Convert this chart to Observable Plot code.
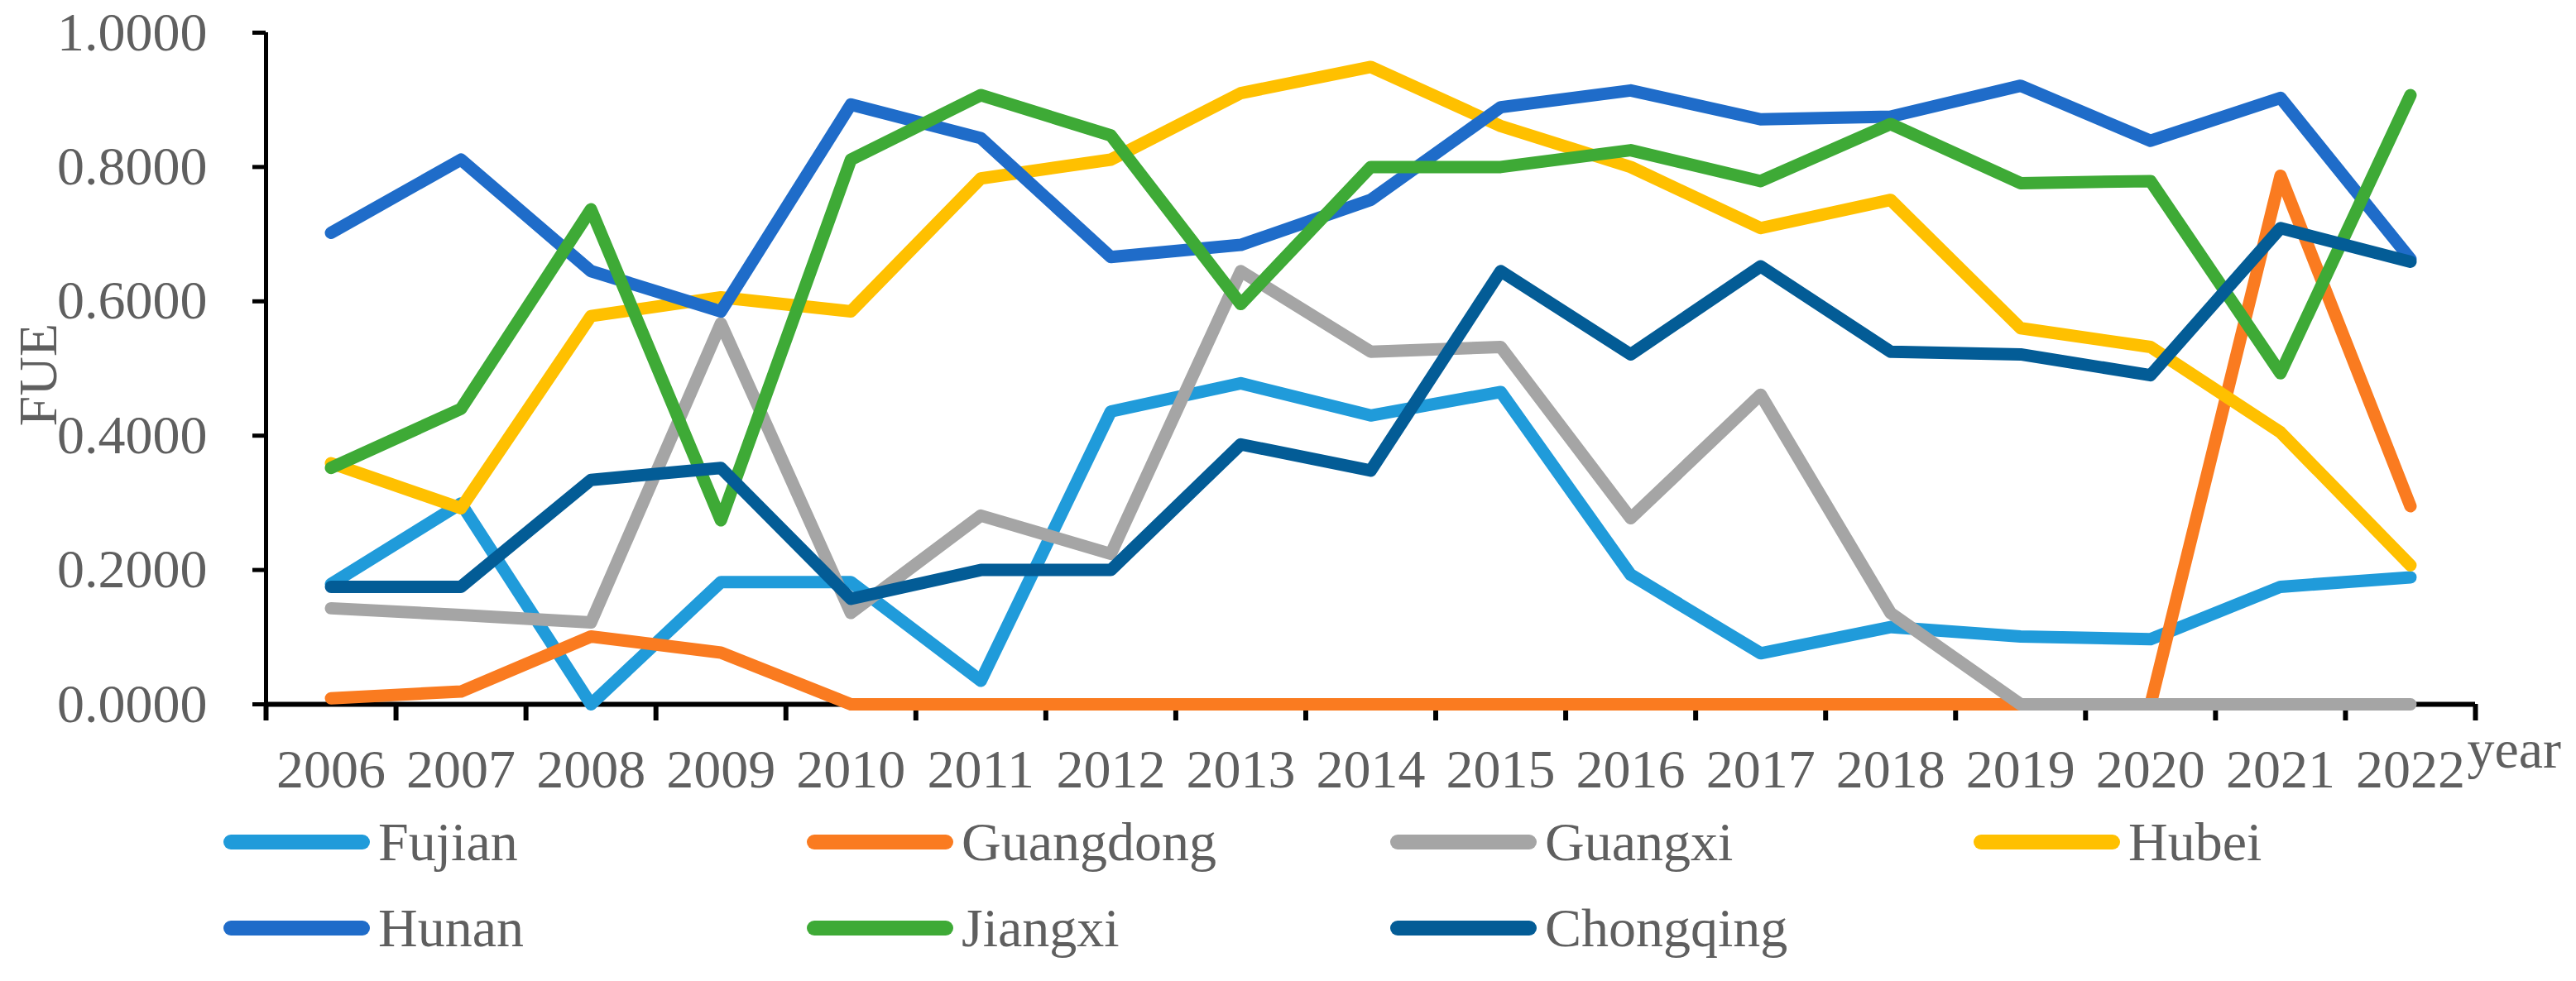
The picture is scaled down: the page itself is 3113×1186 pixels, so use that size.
<!DOCTYPE html>
<html><head><meta charset="utf-8">
<script src="https://cdn.jsdelivr.net/npm/d3@7"></script>
<script src="https://cdn.jsdelivr.net/npm/@observablehq/plot@0.6"></script>
<style>
body{margin:0;background:#fff;}
#chart{width:3113px;height:1186px;position:relative;font-family:"Liberation Serif",serif;overflow:hidden;}
.legend{display:grid;grid-template-columns:repeat(4,705px);grid-auto-rows:104px;padding-left:270px;}
.item{display:flex;align-items:center;font-size:66px;color:#5f5f5f;}
.sw{width:177px;height:18px;border-radius:9px;margin-right:10px;flex:none;}
</style></head><body><div id="chart"></div>
<script>
const years = [2006,2007,2008,2009,2010,2011,2012,2013,2014,2015,2016,2017,2018,2019,2020,2021,2022];
const seriesNames = ["Fujian","Guangdong","Guangxi","Hubei","Hunan","Jiangxi","Chongqing"];
const seriesColors = ["#209BDA","#FA7B20","#A5A5A5","#FFC000","#1F6CC9","#3EAA36","#035C96"];
const fujian    = [0.179,0.299,0.000,0.182,0.182,0.035,0.436,0.478,0.430,0.465,0.193,0.076,0.115,0.101,0.097,0.175,0.189];
const guangdong = [0.009,0.019,0.101,0.077,0.000,0.000,0.000,0.000,0.000,0.000,0.000,0.000,0.000,0.000,0.000,0.787,0.295];
const guangxi   = [0.143,0.133,0.122,0.567,0.136,0.281,0.224,0.645,0.525,0.532,0.277,0.461,0.136,0.000,0.000,0.000,0.000];
const hubei     = [0.359,0.292,0.578,0.606,0.585,0.783,0.811,0.910,0.949,0.861,0.800,0.709,0.751,0.560,0.532,0.405,0.207];
const hunan     = [0.702,0.811,0.645,0.585,0.893,0.843,0.666,0.684,0.751,0.889,0.914,0.871,0.875,0.921,0.839,0.903,0.663];
const jiangxi   = [0.352,0.440,0.737,0.274,0.811,0.907,0.847,0.596,0.800,0.800,0.825,0.779,0.864,0.776,0.779,0.493,0.907];
const chongqing = [0.175,0.175,0.334,0.352,0.157,0.200,0.200,0.387,0.348,0.645,0.521,0.652,0.525,0.521,0.490,0.709,0.659];
const yTicks = [0,0.2,0.4,0.6,0.8,1.0];
const yLabel = "FUE";
const xLabel = "year";

const valuesList = [fujian,guangdong,guangxi,hubei,hunan,jiangxi,chongqing];
const data = [];
seriesNames.forEach((s,i)=>valuesList[i].forEach((v,j)=>data.push({series:s, year:years[j], value:v})));
const x0 = years[0]-0.5, x1 = years[years.length-1]+0.5;
const bounds = years.map(y=>y-0.5).concat([x1]);
const txt = "#5f5f5f";
const FS = 66;

const plot = Plot.plot({
  width: 3113, height: 966,
  marginLeft: 321, marginRight: 122, marginTop: 39, marginBottom: 115,
  style: {fontFamily:"Liberation Serif, serif", fontSize:"66px", color: txt, background:"#fff"},
  x: {type:"linear", domain:[x0,x1], axis:null},
  y: {domain:[0,1], axis:null},
  color: {domain: seriesNames, range: seriesColors},
  marks: [
    Plot.ruleY([0], {stroke:"black", strokeWidth:6}),
    Plot.ruleX([x0], {stroke:"black", strokeWidth:5}),
    Plot.axisY({ticks: yTicks, tickSize:16, tickPadding:55, tickFormat: d3.format(".4f"), stroke:"black", strokeWidth:5, fill: txt, fontSize: FS, label:null}),
    Plot.axisX({ticks: bounds, tickSize:20, tickFormat: ()=>"", stroke:"black", strokeWidth:6, label:null}),
    Plot.axisX({ticks: years, tickSize:0, tickPadding:54, tickFormat: d=>String(d), fill: txt, fontSize: FS, label:null}),
    Plot.line(data, {x:"year", y:"value", z:"series", stroke:"series", strokeWidth:15, strokeLinejoin:"round", strokeLinecap:"round"}),
    Plot.text([yLabel], {text:d=>d, frameAnchor:"left", rotate:-90, dx:-275, dy:70, fill: txt, fontSize: FS}),
    Plot.text([xLabel], {text:d=>d, frameAnchor:"bottom-right", textAnchor:"start", dx:-10, dy:76, fill: txt, fontSize: FS})
  ]
});
const chart = document.getElementById("chart");
chart.appendChild(plot);
const legend = document.createElement("div");
legend.className = "legend";
seriesNames.forEach((s,i)=>{
  const it = document.createElement("div"); it.className="item";
  const sw = document.createElement("span"); sw.className="sw"; sw.style.background = seriesColors[i];
  const t = document.createElement("span"); t.textContent = s;
  it.appendChild(sw); it.appendChild(t); legend.appendChild(it);
});
chart.appendChild(legend);
</script></body></html>
